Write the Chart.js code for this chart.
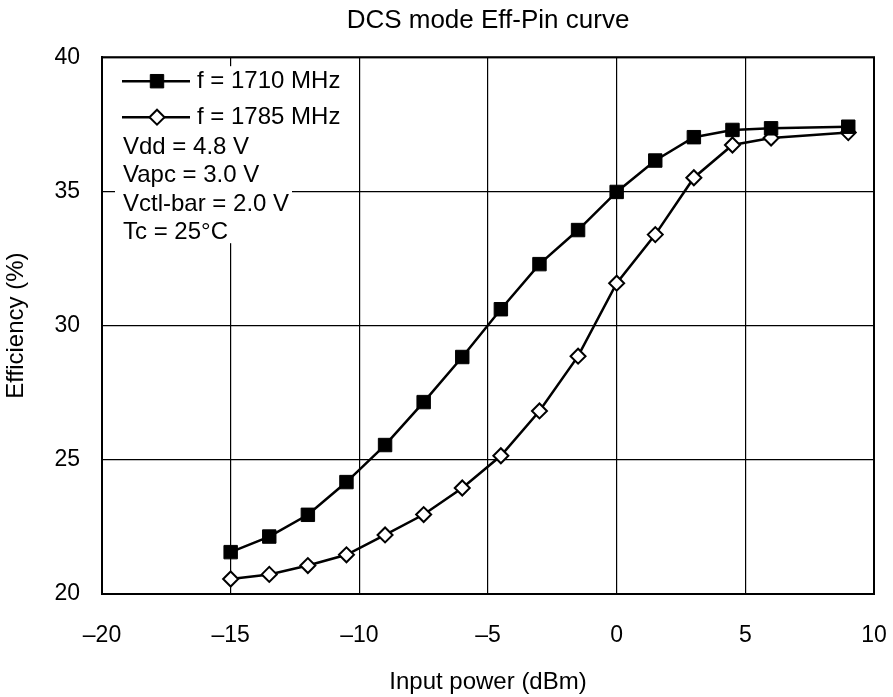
<!DOCTYPE html>
<html lang="en">
<head>
  <meta charset="UTF-8">
  <title>DCS mode Eff-Pin curve</title>
  <script src="https://cdn.jsdelivr.net/npm/chart.js"></script>
  <style>
    html, body { margin: 0; padding: 0; background: #fff; }
    #wrap { width: 893px; height: 697px; }
  </style>
</head>
<body>
  <div id="wrap"><canvas id="effChart" width="893" height="697"></canvas></div>

  <script>
    // input power (dBm)
    const pin = [-15, -13.5, -12, -10.5, -9, -7.5, -6, -4.5, -3, -1.5, 0, 1.5, 3, 4.5, 6, 9];
    // efficiency (%)
    const eff1710 = [21.56, 22.14, 22.95, 24.17, 25.55, 27.15, 28.83, 30.61, 32.29, 33.56, 34.98, 36.15, 37.02, 37.29, 37.35, 37.41];
    const eff1785 = [20.56, 20.73, 21.06, 21.46, 22.2, 22.96, 23.95, 25.15, 26.82, 28.86, 31.58, 33.39, 35.51, 36.73, 36.99, 37.19];

    const seriesNames = ['f = 1710 MHz', 'f = 1785 MHz'];
    const noteLines = ['Vdd = 4.8 V', 'Vapc = 3.0 V', 'Vctl-bar = 2.0 V', 'Tc = 25\u00B0C'];

    const FONT = '"Liberation Sans", Arial, sans-serif';

    const toXY = ys => pin.map((x, i) => ({ x, y: ys[i] }));

    // frame round the plot + legend box inside it
    const framePlugin = {
      id: 'frame',
      afterDatasetsDraw(chart) {
        const ctx = chart.ctx;
        const a = chart.chartArea;
        ctx.save();

        // legend box (white, covers the grid)
        const bx = a.left + 13, by = a.top + 9;
        ctx.fillStyle = '#fff';
        ctx.fillRect(bx, by, 177, 177);

        ctx.font = '24px ' + FONT;
        ctx.textBaseline = 'middle';

        const rows = [15, 51];
        chart.data.datasets.forEach((ds, i) => {
          const y = by + rows[i];
          ctx.strokeStyle = '#000';
          ctx.lineWidth = 2.5;
          ctx.beginPath();
          ctx.moveTo(a.left + 20, y);
          ctx.lineTo(a.left + 88, y);
          ctx.stroke();
          ctx.fillStyle = ds.pointBackgroundColor;
          ctx.strokeStyle = '#000';
          ctx.lineWidth = ds.pointBorderWidth;
          Chart.helpers.drawPoint(ctx, {
            pointStyle: ds.pointStyle,
            radius: ds.pointRadius,
            borderWidth: ds.pointBorderWidth
          }, a.left + 55, y);
          ctx.fillStyle = '#000';
          ctx.fillText(ds.label, a.left + 95, y);
        });

        ctx.fillStyle = '#000';
        noteLines.forEach((t, i) => {
          ctx.fillText(t, a.left + 21, by + 81 + i * 28.5);
        });

        ctx.strokeStyle = '#000';
        ctx.lineWidth = 2;
        ctx.strokeRect(a.left, a.top, a.right - a.left, a.bottom - a.top);
        ctx.restore();
      }
    };

    new Chart(document.getElementById('effChart'), {
      type: 'line',
      data: {
        datasets: [
          {
            label: seriesNames[0],
            data: toXY(eff1710),
            borderColor: '#000',
            borderWidth: 2.5,
            pointStyle: 'rect',
            pointRadius: 9.5,
            pointBackgroundColor: '#000',
            pointBorderColor: '#000',
            pointBorderWidth: 1,
            tension: 0
          },
          {
            label: seriesNames[1],
            data: toXY(eff1785),
            borderColor: '#000',
            borderWidth: 2.5,
            pointStyle: 'rectRot',
            pointRadius: 7.5,
            pointBackgroundColor: '#fff',
            pointBorderColor: '#000',
            pointBorderWidth: 2,
            tension: 0
          }
        ]
      },
      options: {
        responsive: false,
        animation: false,
        layout: { padding: { left: 0, right: 19, top: 0, bottom: 0 } },
        plugins: {
          legend: { display: false },
          tooltip: { enabled: false },
          title: {
            display: true,
            text: 'DCS mode Eff-Pin curve',
            fullSize: false,
            color: '#000',
            font: { family: FONT, size: 26, weight: 'normal' },
            padding: { top: 5, bottom: 21 }
          }
        },
        scales: {
          x: {
            type: 'linear',
            min: -20,
            max: 10,
            afterFit: s => { s.height = 103; s.paddingRight = 0; s.paddingLeft = 0; },
            ticks: {
              stepSize: 5,
              color: '#000',
              padding: 28,
              font: { family: FONT, size: 23 },
              callback: v => v < 0 ? '\u2013' + Math.abs(v) : String(v)
            },
            grid: { color: '#000', lineWidth: 1.2, drawTicks: false },
            border: { color: '#000', width: 2 },
            title: {
              display: true,
              text: 'Input power (dBm)',
              color: '#000',
              font: { family: FONT, size: 24 },
              padding: { top: 4, bottom: 0 }
            }
          },
          y: {
            min: 20,
            max: 40,
            afterFit: s => { s.width = 102; },
            ticks: {
              stepSize: 5,
              color: '#000',
              padding: 22,
              font: { family: FONT, size: 23 }
            },
            grid: { color: '#000', lineWidth: 1.2, drawTicks: false },
            border: { color: '#000', width: 2 },
            title: {
              display: true,
              text: 'Efficiency (%)',
              color: '#000',
              font: { family: FONT, size: 24 },
              padding: { top: 2, bottom: 0 }
            }
          }
        }
      },
      plugins: [framePlugin]
    });
  </script>
</body>
</html>
